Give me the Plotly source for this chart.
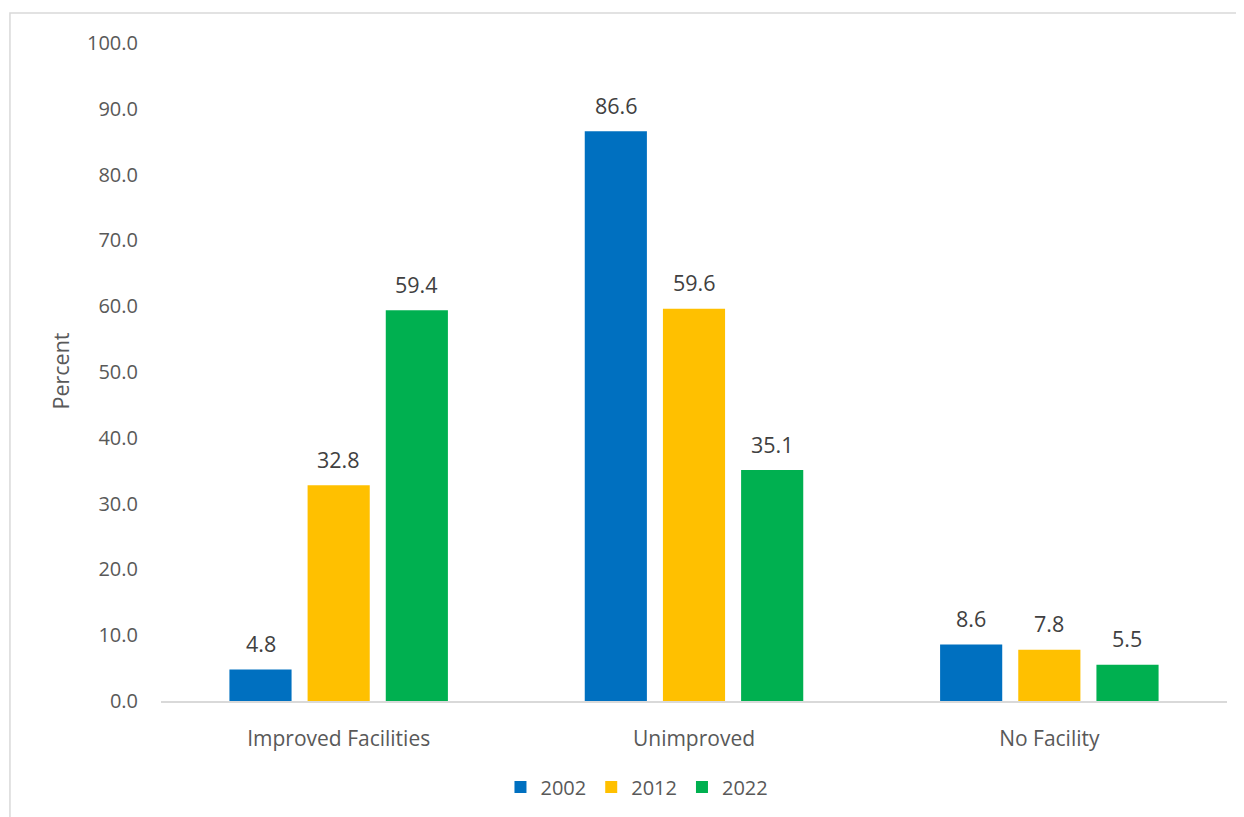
import plotly.graph_objects as go

categories = ["Improved Facilities", "Unimproved", "No Facility"]
years = ["2002", "2012", "2022"]
values_2002 = [4.8, 86.6, 8.6]
values_2012 = [32.8, 59.6, 7.8]
values_2022 = [59.4, 35.1, 5.5]
colors = ["#0070C0", "#FFC000", "#00B050"]
y_ticks = [0, 10, 20, 30, 40, 50, 60, 70, 80, 90, 100]

series = [values_2002, values_2012, values_2022]
FONT = "Open Sans"
TXT = "#595959"

fig = go.Figure()
for name, vals, col in zip(years, series, colors):
    fig.add_trace(go.Bar(x=categories, y=vals, name=name, marker_color=col,
                         marker_line_width=0))

# data labels
offsets = [-78, 0, 78]
annotations = []
for vals, off in zip(series, offsets):
    for c, v in zip(categories, vals):
        annotations.append(dict(x=c, y=v, xref="x", yref="y", text=f"{v:.1f}",
                                showarrow=False, xshift=off, yshift=26,
                                yanchor="middle",
                                font=dict(family=FONT, size=21.5, color="#404040")))
annotations.append(dict(x=-0.0947, y=0.5008, xref="paper", yref="paper", text="Percent",
                        textangle=-90, showarrow=False, xanchor="center", yanchor="middle",
                        font=dict(family=FONT, size=21.5, color=TXT)))

fig.update_layout(
    width=1236, height=809,
    margin=dict(l=153, r=17, t=35, b=115),
    paper_bgcolor="white", plot_bgcolor="white",
    barmode="group", bargap=0.34, bargroupgap=0.205,
    font=dict(family=FONT, size=20, color=TXT),
    showlegend=True,
    legend=dict(orientation="h", x=0.4465, xanchor="center", y=-0.129, yanchor="middle",
                font=dict(family=FONT, size=20, color=TXT), itemwidth=30,
                tracegroupgap=0),
    annotations=annotations,
    shapes=[dict(type="rect", xref="paper", yref="paper", x0=-0.1417, x1=1.05,
                 y0=-0.3, y1=1.0455, line=dict(color="#D9D9D9", width=1.5),
                 fillcolor="rgba(0,0,0,0)", layer="below")],
)
fig.update_xaxes(showline=True, linecolor="#D9D9D9", linewidth=2, showgrid=False,
                 ticks="", ticklabelstandoff=18, tickfont=dict(size=21, color=TXT))
fig.update_yaxes(range=[0, 100], tickvals=y_ticks, tickformat=".1f", showgrid=False,
                 showline=False, zeroline=False, ticks="", ticklabelstandoff=22,
                 tickfont=dict(size=20, color=TXT))

fig.write_html("out.html")
